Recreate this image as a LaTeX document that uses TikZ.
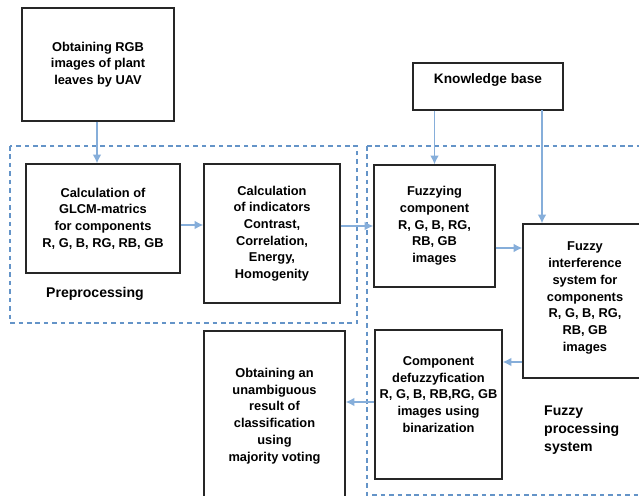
\documentclass[tikz,border=0pt]{standalone}
\usepackage{fontspec}
\setmainfont{Liberation Sans}
\usepackage{xcolor}
\usetikzlibrary{arrows.meta}
\definecolor{flowblue}{HTML}{86AEDA}
\definecolor{dashblue}{HTML}{6494C8}

\begin{document}
\begin{tikzpicture}[x=0.02cm, y=-0.02cm,
    box/.style={draw=black!85, line width=0.8pt, fill=white, inner sep=0pt,
      align=center, font=\fontsize{7.3}{9.5}\selectfont\bfseries},
    txt/.style={align=center, font=\fontsize{7.3}{9.5}\selectfont\bfseries},
    grp/.style={draw=dashblue, line width=1.1pt, dash pattern=on 2.6pt off 2.2pt},
    lbl/.style={align=left, font=\fontsize{8}{10.2}\selectfont\bfseries},
    arr/.style={draw=flowblue, line width=0.8pt, -{Latex[length=5pt,width=5pt]}}]
  \useasboundingbox (0,0) rectangle (639,496);
  % group frames
  \draw[grp] (10,146) rectangle (357,323);
  \draw[grp] (367,146) -- (650,146) (367,146) -- (367,495) -- (650,495);
  % boxes
  \node[box, minimum width=3.04cm, minimum height=2.26cm] (uav) at (98,64.5)
    {Obtaining RGB\\images of plant\\leaves by UAV};
  \node[box, minimum width=3.08cm, minimum height=2.18cm] (glcm) at (103,218.5)
    {Calculation of\\GLCM-matrics\\for components\\R, G, B, RG, RB, GB};
  \node[box, minimum width=2.72cm, minimum height=2.78cm] (ind) at (272,233.5)
    {Calculation\\of indicators\\Contrast,\\Correlation,\\Energy,\\Homogenity};
  \node[box, minimum width=3.0cm, minimum height=0.94cm] (kb) at (488,86.5) {};
  \node[txt, font=\fontsize{7.8}{9.5}\selectfont\bfseries] (kbtext) at (488,80) {Knowledge base};
  \node[box, minimum width=2.42cm, minimum height=2.44cm] (fuzz) at (434.5,226)
    {Fuzzying\\component\\R, G, B, RG,\\RB, GB\\images};
  \node[box, minimum width=2.7cm, minimum height=3.08cm] (fis) at (590.5,301) {};
  \node[txt] (fistext) at (585,298)
    {Fuzzy\\interference\\system for\\components\\R, G, B, RG,\\RB, GB\\images};
  \node[box, minimum width=2.54cm, minimum height=2.98cm] (defuz) at (438.5,404.5) {};
  \node[txt] (defuztext) at (438.5,394.5)
    {Component\\defuzzyfication\\R, G, B, RB,RG, GB\\images using\\binarization};
  \node[box, minimum width=2.82cm, minimum height=3.4cm] (final) at (274.5,416)
    {Obtaining an\\unambiguous\\result of\\classification\\using\\majority voting};
  % group labels
  \node[lbl] (prep) at (95,294) {Preprocessing};
  \node[lbl, anchor=west] (fps) at (538,430) {Fuzzy\\processing\\system};
  % connectors
  \coordinate (kbright) at (542,110);
  \draw[arr] (uav.south -| 97,0) -- (97,0 |- glcm.north);
  \draw[arr] (glcm.east |- 0,225) -- (ind.west |- 0,225);
  \draw[arr] (ind.east |- fuzz.west) -- (fuzz.west);
  \draw[arr] (kb.south -| fuzz.north) -- (fuzz.north);
  \draw[arr] (kbright) -- (kbright |- fis.north);
  \draw[arr] (fuzz.east |- 0,248) -- (fis.west |- 0,248);
  \draw[arr] (fis.west |- 0,362) -- (defuz.east |- 0,362);
  \draw[arr] (defuz.west |- 0,402) -- (final.east |- 0,402);
\end{tikzpicture}
\end{document}
